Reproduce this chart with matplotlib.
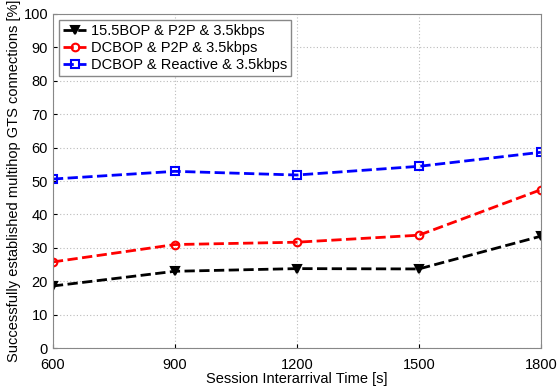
import matplotlib.pyplot as plt
import numpy as np

plt.rcParams['font.family'] = ['Liberation Sans', 'DejaVu Sans']

x = [600, 900, 1200, 1500, 1800]
bop_p2p = [18.6, 23.0, 23.8, 23.7, 33.5]
dcbop_p2p = [25.8, 31.0, 31.7, 33.8, 47.4]
dcbop_reactive = [50.6, 52.9, 51.8, 54.4, 58.6]
labels = ['15.5BOP & P2P & 3.5kbps', 'DCBOP & P2P & 3.5kbps', 'DCBOP & Reactive & 3.5kbps']

fig = plt.figure(figsize=(5.57, 3.86), dpi=100)
ax = fig.add_axes([0.095, 0.098, 0.876, 0.866])

ax.plot(x, bop_p2p, 'k--v', lw=2, ms=5.5, mew=1.5, label=labels[0])
ax.plot(x, dcbop_p2p, '--o', color='#ff0000', lw=2, ms=5.5, mfc='none', mew=1.5, label=labels[1])
ax.plot(x, dcbop_reactive, '--s', color='#0000ff', lw=2, ms=5.5, mfc='none', mew=1.5, label=labels[2])

ax.set_xlim(600, 1800)
ax.set_ylim(0, 100)
ax.set_xticks(x)
ax.set_yticks(np.arange(0, 101, 10))
ax.tick_params(labelsize=10.5, direction='in', length=3)
ax.tick_params(axis='x', pad=7)
ax.grid(True, linestyle=(0, (1, 2)), color='#bbbbbb', lw=0.8)
ax.set_xlabel('Session Interarrival Time [s]', fontsize=10.5, labelpad=0)
ax.set_ylabel('Successfully established multihop GTS connections [%]', fontsize=10.5, labelpad=2)
for s in ax.spines.values():
    s.set_color('#888888')

leg = ax.legend(loc='upper left', fontsize=10.5, handlelength=1.6, handletextpad=0.3,
                borderpad=0.3, labelspacing=0.2, fancybox=False, framealpha=1,
                borderaxespad=0.4)
leg.get_frame().set_edgecolor('#888888')

plt.savefig('out.png', dpi=100)
